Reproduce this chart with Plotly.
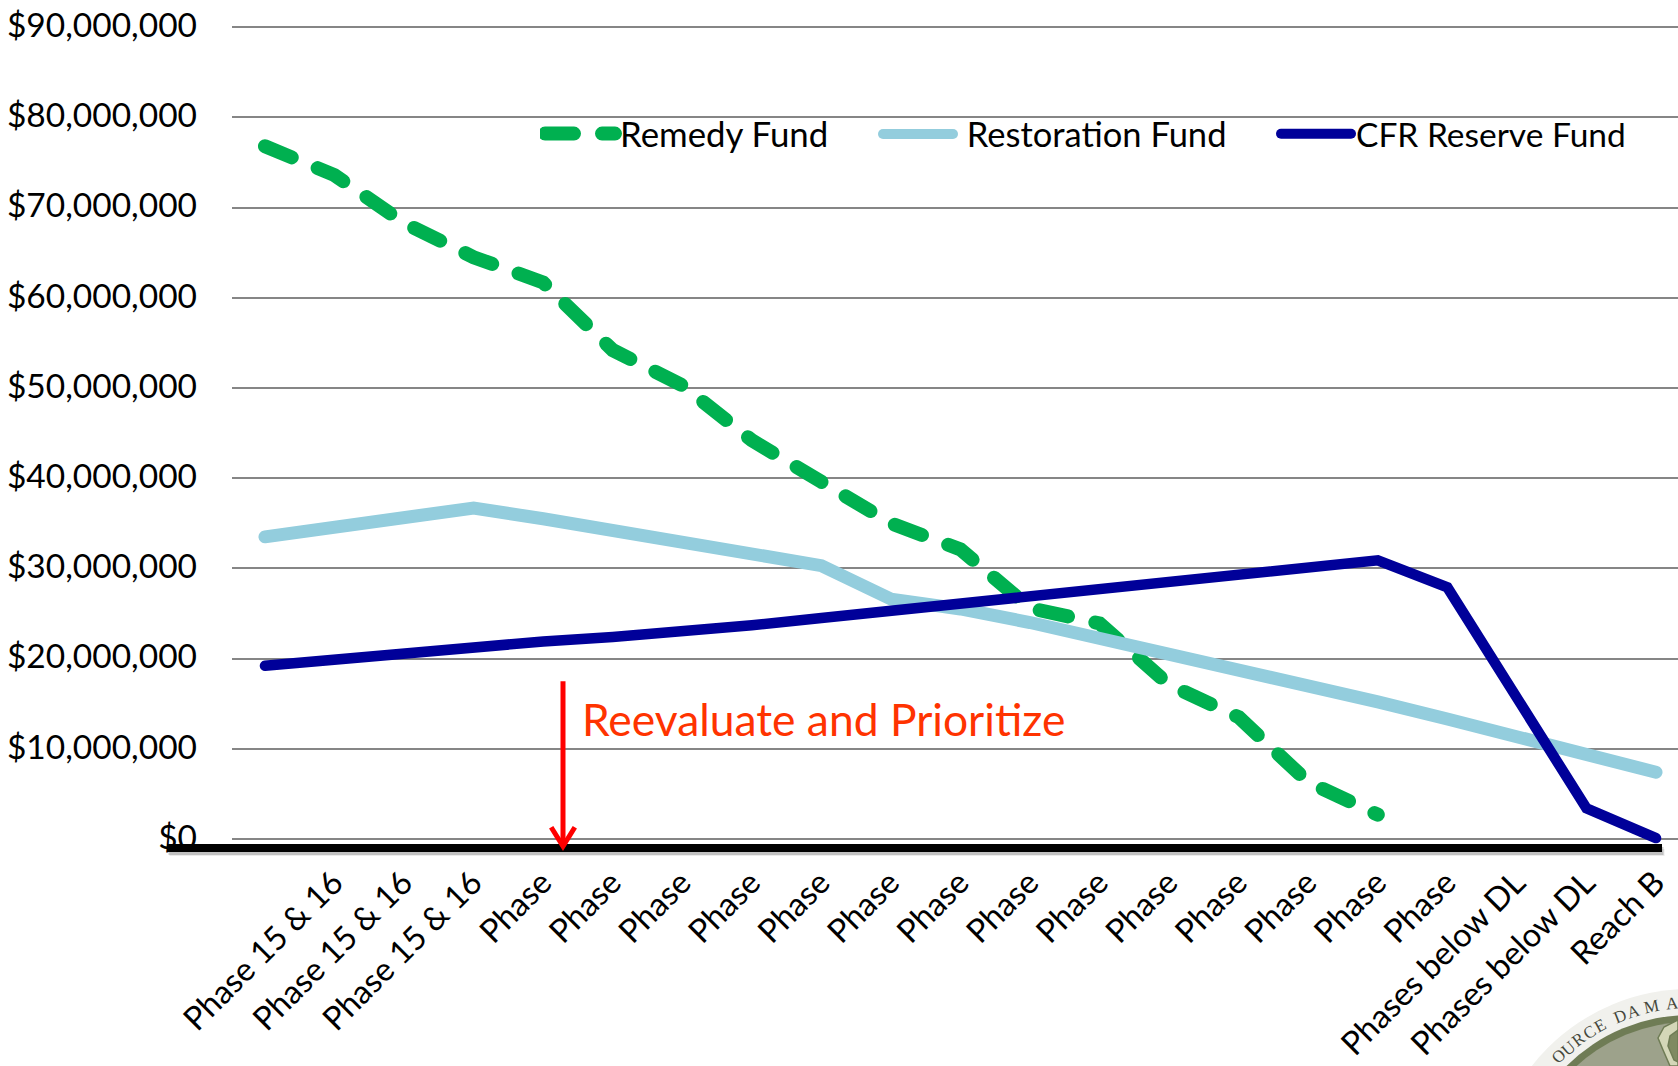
import math
import plotly.graph_objects as go

# ---- Chart values (dollars, millions) ----
TICK_LABELS = ["", "Phase 15 & 16", "Phase 15 & 16", "Phase 15 & 16"] + ["Phase"] * 14 + [
    "Phases below DL", "Phases below DL", "Reach B"]
POSITIONS = list(range(len(TICK_LABELS)))

REMEDY = [76.8, 73.6, 68.3, 64.5, 61.7, 54.2, 50.3, 44.2, 39.6, 35.0, 32.1, 25.6, 23.9, 17.1, 13.5, 6.3, 2.7]
RESTORATION = [33.5, 34.6, 35.6, 36.7, 35.5, 34.2, 33.0, 31.6, 30.3, 26.6, 25.5, 24.0, 22.3, 20.4, 18.6, 16.9,
               15.2, 13.3, 11.3, 9.4, 7.4]
CFR_RESERVE = [19.2, 19.9, 20.5, 21.2, 21.9, 22.4, 23.0, 23.7, 24.5, 25.3, 26.1, 27.0, 27.8, 28.5, 29.2, 30.0,
               30.9, 27.9, 15.7, 3.4, 0.1]
Y_TICKS = [0, 10, 20, 30, 40, 50, 60, 70, 80, 90]
Y_TICK_TEXT = ["$0"] + [f"${v},000,000" for v in Y_TICKS[1:]]

FONT = "Lato, Carlito, sans-serif"
W, H = 1678, 1066
LEFT, TOP, BOTTOM = 232, 20, 856
PLOT_W, PLOT_H = W - LEFT, BOTTOM - TOP


def px(x):
    return (x - LEFT) / PLOT_W


def py(y):
    return (BOTTOM - y) / PLOT_H


fig = go.Figure()
fig.add_trace(go.Scatter(x=POSITIONS[:len(REMEDY)], y=REMEDY, mode="lines", name="Remedy Fund", legend="legend",
                         line=dict(color="#00B050", width=14, dash="29px,28px")))
fig.add_trace(go.Scatter(x=POSITIONS, y=RESTORATION, mode="lines", name="\u00a0Restoration Fund", legend="legend2",
                         line=dict(color="#93CDDD", width=13)))
fig.add_trace(go.Scatter(x=POSITIONS, y=CFR_RESERVE, mode="lines", name="CFR Reserve Fund", legend="legend3",
                         line=dict(color="#000099", width=10.5)))

shapes = []
# Baseline bar with its soft drop shadow
for off, col, w in [(5, "rgba(0,0,0,0.08)", 8), (3, "rgba(0,0,0,0.18)", 8), (0, "#000000", 8)]:
    y = -1.0 - off / 9.02
    shapes.append(dict(type="line", xref="paper", yref="y", x0=px(167 + off / 2), x1=px(1662 + off / 2), y0=y, y1=y,
                       line=dict(color=col, width=w), layer="above"))

# Review marker: a red arrow coming down onto the baseline
ARROW_X, ARROW_TOP, ARROW_TIP = 4.285, 17.5, -0.8
shapes.append(dict(type="line", xref="x", yref="y", x0=ARROW_X, x1=ARROW_X, y0=ARROW_TOP, y1=ARROW_TIP,
                   line=dict(color="#FF0000", width=5), layer="above"))
shapes.append(dict(type="path", xref="x", yref="y", layer="above", line=dict(color="#FF0000", width=5),
                   path=f"M{ARROW_X - 0.17},1.3 L{ARROW_X},{ARROW_TIP} L{ARROW_X + 0.17},1.3"))


# Emblem in the bottom right corner
def disc(r, fill):
    cx, cy = 1690, 1190
    return dict(type="circle", xref="paper", yref="paper", x0=px(cx - r), x1=px(cx + r), y0=py(cy + r), y1=py(cy - r),
                fillcolor=fill, line=dict(width=0), layer="above")


shapes += [disc(201, "#F1F1ED"), disc(175, "#6F7C55"), disc(168, "#9DA28B")]


def path(points, fill, stroke="#6F7C55"):
    d = "M" + " L".join(f"{px(x):.5f},{py(y):.5f}" for x, y in points) + " Z"
    return dict(type="path", xref="paper", yref="paper", path=d, fillcolor=fill,
                line=dict(color=stroke, width=1.5), layer="above")


shapes.append(path([(1678, 1020), (1664, 1027), (1658, 1038), (1663, 1050), (1670, 1066), (1678, 1066)], "#D4D7B8"))
shapes.append(path([(1678, 1030), (1670, 1036), (1668, 1046), (1674, 1060), (1678, 1062)], "#7F8A62"))

annotations = [
    dict(text="Reevaluate and Prioritize", xref="paper", yref="paper", x=px(580), y=py(718), xanchor="left",
         yanchor="middle", showarrow=False, font=dict(family=FONT, size=44.4, color="#FF3300")),
]

# Curved lettering round the emblem rim
for ch, deg in [("O", 44.6), ("U", 40.6), ("R", 36.6), ("C", 32.6), ("E", 28.6), ("D", 22), ("A", 17.5), ("M", 11.8),
                ("A", 5.5)]:
    a = math.radians(deg)
    annotations.append(dict(text=ch, xref="paper", yref="paper", x=px(1690 - 187 * math.sin(a)),
                            y=py(1190 - 187 * math.cos(a)), xanchor="center", yanchor="middle", showarrow=False,
                            textangle=-deg, font=dict(family="Liberation Serif, serif", size=17, color="#45483C")))

legend_style = dict(orientation="h", yanchor="middle", y=py(134), bgcolor="rgba(0,0,0,0)", itemwidth=70,
                    borderwidth=0)

fig.update_layout(
    width=W, height=H, autosize=False,
    margin=dict(l=LEFT, r=0, t=TOP, b=H - BOTTOM, pad=0),
    paper_bgcolor="#FFFFFF", plot_bgcolor="#FFFFFF",
    font=dict(family=FONT, color="#000000"),
    showlegend=True,
    legend=dict(x=px(540), font=dict(family=FONT, size=34.8, color="#000000"), **legend_style),
    legend2=dict(x=px(878), font=dict(family=FONT, size=34.5, color="#000000"), **legend_style),
    legend3=dict(x=px(1276), font=dict(family=FONT, size=33.5, color="#000000"), **legend_style),
    shapes=shapes, annotations=annotations,
    xaxis=dict(range=[-0.474, 20.316], tickmode="array", tickvals=POSITIONS, ticktext=TICK_LABELS, tickangle=-45,
               tickfont=dict(family=FONT, size=32.6), showgrid=False, zeroline=False, showline=False, ticks="",
               ticklabelstandoff=0, ticklabelshift=-1, automargin=False),
    yaxis=dict(range=[(839 - BOTTOM) / 9.02, (839 - TOP) / 9.02], tickmode="array", tickvals=Y_TICKS,
               ticktext=Y_TICK_TEXT, tickfont=dict(family=FONT, size=33.5), showgrid=True, gridcolor="#868686",
               gridwidth=2, zeroline=False, showline=False, ticks="", ticklabelstandoff=34, ticklabelshift=-2,
               automargin=False),
)

# Rounded line ends on the dashes, and legend samples as heavy as their lines,
# neither of which plotly has an attribute for
POST = """
var all = document.querySelectorAll('path.js-line');
all.forEach(function(p){p.style.strokeLinecap='round';});
var drawn = document.querySelectorAll('.scatterlayer path.js-line');
var keys = document.querySelectorAll('.legend path.js-line');
keys.forEach(function(k, i){ if (drawn[i]) { k.style.strokeWidth = drawn[i].style.strokeWidth; } });
"""
fig.write_html("out.html", config=dict(displayModeBar=False), post_script=POST)
